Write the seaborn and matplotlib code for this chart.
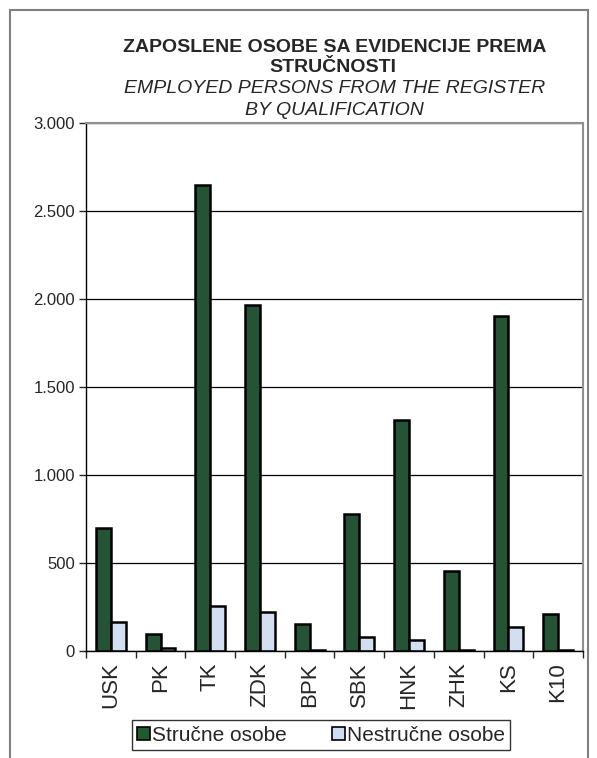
import pandas as pd
import matplotlib.pyplot as plt
import matplotlib.ticker as mticker
from matplotlib.patches import Patch, Rectangle
import seaborn as sns

# data
regions = ['USK', 'PK', 'TK', 'ZDK', 'BPK', 'SBK', 'HNK', 'ZHK', 'KS', 'K10']
strucne = [698, 99, 2650, 1965, 151, 776, 1313, 455, 1902, 210]
nestrucne = [166, 17, 257, 219, 8, 82, 63, 4, 137, 5]
series_names = ['Stručne osobe', 'Nestručne osobe']
colors = ['#1f5a32', '#cfdcf6']

sns.set_style('white')
plt.rcParams['font.family'] = ['Liberation Sans', 'DejaVu Sans']

df = pd.DataFrame({
    'region': regions * 2,
    'value': strucne + nestrucne,
    'series': [series_names[0]] * len(regions) + [series_names[1]] * len(regions),
})

fig = plt.figure(figsize=(5.97, 7.58), dpi=100)
ax = fig.add_axes([0.144, 0.1412, 0.8325, 0.6966])

sns.barplot(data=df, x='region', y='value', hue='series', order=regions,
            hue_order=series_names, palette=colors, width=0.6,
            edgecolor='black', linewidth=1.8, legend=False, ax=ax)

# axis look
ax.set_ylim(0, 3000)
ax.set_xlim(-0.5, len(regions) - 0.5)
ax.yaxis.set_major_locator(mticker.MultipleLocator(500))
ax.yaxis.set_major_formatter(mticker.FuncFormatter(lambda v, p: f'{int(v):,}'.replace(',', '.')))
ax.grid(axis='y', color='black', linewidth=0.9)
ax.set_axisbelow(True)
ax.set_xlabel('')
ax.set_ylabel('')
for side in ['top', 'right']:
    ax.spines[side].set_color('#909090')
    ax.spines[side].set_linewidth(1.5)
for side in ['left', 'bottom']:
    ax.spines[side].set_color('black')
    ax.spines[side].set_linewidth(1.0)

ax.tick_params(axis='y', which='major', length=5, width=1, direction='out',
               left=True, labelsize=12, pad=3)
ax.set_xticks(range(len(regions)))
ax.set_xticklabels(regions, rotation=90, fontsize=16)
ax.set_xticks([i - 0.5 for i in range(len(regions) + 1)], minor=True)
ax.tick_params(axis='x', which='major', length=0, pad=8)
ax.tick_params(axis='x', which='minor', length=5, width=1, direction='out', bottom=True)

# titles (placed by baseline)
fig.text(0.561, 0.9314, 'ZAPOSLENE OSOBE SA EVIDENCIJE PREMA', ha='center', va='baseline',
         fontsize=14, fontweight='bold')
fig.text(0.557, 0.905, 'STRUČNOSTI', ha='center', va='baseline', fontsize=14, fontweight='bold')
fig.text(0.561, 0.8773, 'EMPLOYED PERSONS FROM THE REGISTER', ha='center', va='baseline',
         fontsize=14, fontstyle='italic')
fig.text(0.561, 0.8483, 'BY QUALIFICATION', ha='center', va='baseline',
         fontsize=14, fontstyle='italic')

# legend
handles = [Patch(facecolor=c, edgecolor='black', linewidth=1.2) for c in colors]
leg = fig.legend(handles, series_names, loc='center', bbox_to_anchor=(0.538, 0.0303),
                 ncol=2, fontsize=15, frameon=True, fancybox=False, edgecolor='black',
                 handlelength=0.6, handleheight=0.6, handletextpad=0.1, columnspacing=2.2,
                 borderpad=0.25)
leg.get_frame().set_linewidth(1.0)

# outer chart frame
fig.patches.append(Rectangle((10 / 597, -0.05), 578 / 597, 1.05 - 10 / 758,
                             transform=fig.transFigure, fill=False,
                             edgecolor='#808080', linewidth=1.5))

fig.savefig('out.png', dpi=100)
